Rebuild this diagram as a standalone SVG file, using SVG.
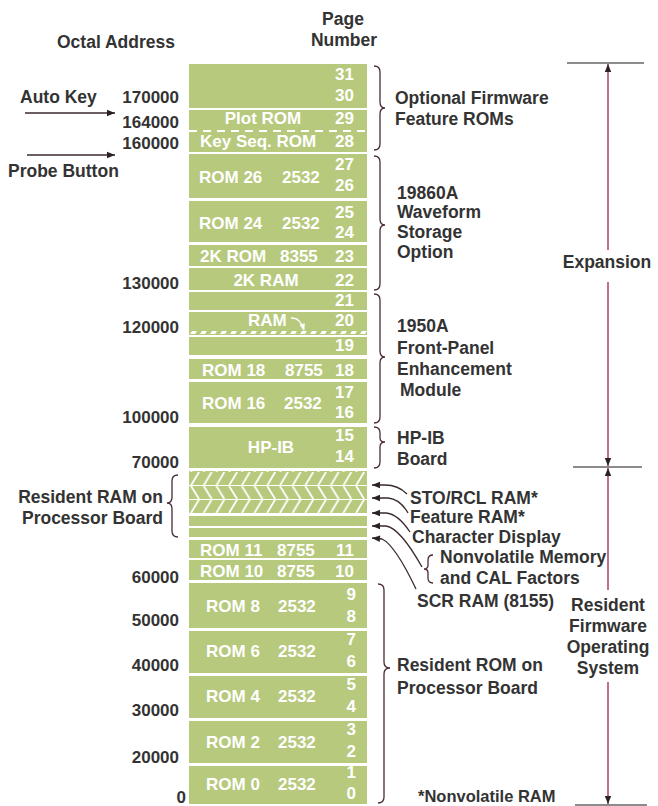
<svg xmlns="http://www.w3.org/2000/svg" width="658" height="806" viewBox="0 0 658 806">
<style>
.blk{fill:#b6c97d}
.w{fill:#fff;font-family:"Liberation Sans",Arial,sans-serif;font-weight:bold;font-size:17px}
.wr{fill:#fff;font-family:"Liberation Sans",Arial,sans-serif;font-weight:bold;font-size:17px;text-anchor:end}
.d{fill:#333;font-family:"Liberation Sans",Arial,sans-serif;font-weight:bold;font-size:17.5px}
.dr{fill:#333;font-family:"Liberation Sans",Arial,sans-serif;font-weight:bold;font-size:17.5px;text-anchor:end}
.dm{fill:#333;font-family:"Liberation Sans",Arial,sans-serif;font-weight:bold;font-size:17.5px;text-anchor:middle}
.n{fill:#333;font-family:"Liberation Sans",Arial,sans-serif;font-weight:bold;font-size:17px;text-anchor:end}
.brace{fill:none;stroke:#4a2a36;stroke-width:1.3}
.ptr{fill:none;stroke:#3a2a30;stroke-width:1.3}
.dim{fill:none;stroke:#a8325a;stroke-width:1.4}
.bar{stroke:#666;stroke-width:1.5}
</style>
<defs>
<marker id="ah" viewBox="0 0 10 10" refX="10" refY="5" markerWidth="10" markerHeight="8" markerUnits="userSpaceOnUse" orient="auto">
<path d="M0,1 L10,5 L0,9 Z" fill="#2a2226"/>
</marker>
<marker id="ahw" viewBox="0 0 10 10" refX="9" refY="5" markerWidth="8" markerHeight="7" markerUnits="userSpaceOnUse" orient="auto">
<path d="M0,1 L10,5 L0,9 Z" fill="#fff"/>
</marker>
<pattern id="chev" patternUnits="userSpaceOnUse" x="189" y="472" width="12.7" height="41">
<rect width="12.7" height="41" fill="#b6c97d"/>
<path d="M2,13.5 L10,0 M2,14 L10,27 M2,41 L10,27.5" stroke="#fff" stroke-width="1.8" fill="none"/>
<path d="M0,13.5 H12.7 M0,27.5 H12.7" stroke="#fff" stroke-width="1" fill="none"/>
</pattern>
<pattern id="hatch" patternUnits="userSpaceOnUse" x="189" y="330" width="10" height="5">
<path d="M1,4 L3,1 L8,1 L6,4 Z" fill="#fff"/>
</pattern>
</defs>
<rect width="658" height="806" fill="#fff"/>

<g id="headers">
<text class="d" x="57" y="48">Octal Address</text>
<text class="dm" x="343" y="25">Page</text>
<text class="dm" x="344" y="46">Number</text>
</g>

<g id="addresses">
<text class="n" x="179" y="103">170000</text>
<text class="n" x="179" y="128">164000</text>
<text class="n" x="179" y="149">160000</text>
<text class="n" x="179" y="289">130000</text>
<text class="n" x="179" y="333">120000</text>
<text class="n" x="179" y="423">100000</text>
<text class="n" x="179" y="468">70000</text>
<text class="n" x="179" y="583">60000</text>
<text class="n" x="179" y="626">50000</text>
<text class="n" x="179" y="671">40000</text>
<text class="n" x="179" y="716">30000</text>
<text class="n" x="179" y="763">20000</text>
<text class="n" x="186" y="803">0</text>
</g>

<g id="block-31-30"><rect class="blk" x="189" y="64" width="178" height="44"/>
<text class="wr" x="354" y="80">31</text><text class="wr" x="354" y="101">30</text></g>
<g id="block-29-28"><rect class="blk" x="189" y="110" width="178" height="42"/>
<line x1="189" y1="131" x2="367" y2="131" stroke="#fff" stroke-width="2" stroke-dasharray="8 6"/>
<text class="w" x="263" y="124" text-anchor="middle">Plot ROM</text><text class="wr" x="354" y="124">29</text>
<text class="w" x="200" y="147">Key Seq. ROM</text><text class="wr" x="354" y="147">28</text></g>
<g id="block-27-26"><rect class="blk" x="189" y="154" width="178" height="44"/>
<text class="w" x="199" y="183">ROM 26</text><text class="w" x="282" y="183">2532</text>
<text class="wr" x="354" y="170">27</text><text class="wr" x="354" y="191">26</text></g>
<g id="block-25-24"><rect class="blk" x="189" y="201" width="178" height="41"/>
<text class="w" x="199" y="229">ROM 24</text><text class="w" x="282" y="229">2532</text>
<text class="wr" x="354" y="218">25</text><text class="wr" x="354" y="238">24</text></g>
<g id="block-23"><rect class="blk" x="189" y="245" width="178" height="21"/>
<text class="w" x="200" y="262">2K ROM</text><text class="w" x="280" y="262">8355</text><text class="wr" x="354" y="262">23</text></g>
<g id="block-22"><rect class="blk" x="189" y="268" width="178" height="22"/>
<text class="w" x="266" y="286" text-anchor="middle">2K RAM</text><text class="wr" x="354" y="286">22</text></g>
<g id="block-21"><rect class="blk" x="189" y="292" width="178" height="18"/>
<text class="wr" x="354" y="306">21</text></g>
<g id="block-20"><rect class="blk" x="189" y="312" width="178" height="23"/>
<rect x="189" y="330" width="178" height="5" fill="url(#hatch)"/>
<text class="w" x="248" y="326">RAM</text><text class="wr" x="354" y="326">20</text>
<path d="M291,318 Q300,317 304,330" fill="none" stroke="#fff" stroke-width="1.5" marker-end="url(#ahw)"/></g>
<g id="block-19"><rect class="blk" x="189" y="337" width="178" height="18"/>
<text class="wr" x="354" y="351">19</text></g>
<g id="block-18"><rect class="blk" x="189" y="359" width="178" height="20"/>
<text class="w" x="202" y="376">ROM 18</text><text class="w" x="285" y="376">8755</text><text class="wr" x="354" y="376">18</text></g>
<g id="block-17-16"><rect class="blk" x="189" y="382" width="178" height="41"/>
<text class="w" x="202" y="409">ROM 16</text><text class="w" x="284" y="409">2532</text>
<text class="wr" x="354" y="398">17</text><text class="wr" x="354" y="418">16</text></g>
<g id="block-15-14"><rect class="blk" x="189" y="427" width="178" height="41"/>
<text class="w" x="271" y="453" text-anchor="middle">HP-IB</text>
<text class="wr" x="354" y="441">15</text><text class="wr" x="354" y="462">14</text></g>
<g id="block-ram-nv"><rect x="189" y="471" width="178" height="42" fill="url(#chev)"/></g>
<g id="block-char"><rect class="blk" x="189" y="516" width="178" height="10"/></g>
<g id="block-scr"><rect class="blk" x="189" y="528" width="178" height="9"/></g>
<g id="block-11"><rect class="blk" x="189" y="540" width="178" height="18"/>
<text class="w" x="200" y="556">ROM 11</text><text class="w" x="277" y="556">8755</text><text class="wr" x="354" y="556">11</text></g>
<g id="block-10"><rect class="blk" x="189" y="560" width="178" height="20"/>
<text class="w" x="200" y="577">ROM 10</text><text class="w" x="277" y="577">8755</text><text class="wr" x="354" y="577">10</text></g>
<g id="block-9-8"><rect class="blk" x="189" y="583" width="178" height="45"/>
<text class="w" x="206" y="612">ROM 8</text><text class="w" x="278" y="612">2532</text>
<text class="wr" x="356" y="600">9</text><text class="wr" x="356" y="622">8</text></g>
<g id="block-7-6"><rect class="blk" x="189" y="631" width="178" height="42"/>
<text class="w" x="206" y="657">ROM 6</text><text class="w" x="278" y="657">2532</text>
<text class="wr" x="356" y="645">7</text><text class="wr" x="356" y="667">6</text></g>
<g id="block-5-4"><rect class="blk" x="189" y="676" width="178" height="42"/>
<text class="w" x="206" y="702">ROM 4</text><text class="w" x="278" y="702">2532</text>
<text class="wr" x="356" y="690">5</text><text class="wr" x="356" y="712">4</text></g>
<g id="block-3-2"><rect class="blk" x="189" y="721" width="178" height="42"/>
<text class="w" x="206" y="748">ROM 2</text><text class="w" x="278" y="748">2532</text>
<text class="wr" x="356" y="735">3</text><text class="wr" x="356" y="757">2</text></g>
<g id="block-1-0"><rect class="blk" x="189" y="766" width="178" height="38"/>
<text class="w" x="206" y="790">ROM 0</text><text class="w" x="278" y="790">2532</text>
<text class="wr" x="356" y="778">1</text><text class="wr" x="356" y="799">0</text></g>

<g id="braces">
<path class="brace" d="M374,66 Q380,66 380,72 L380,102 Q380,108 385,108 Q380,108 380,114 L380,144 Q380,150 374,150"/>
<path class="brace" d="M374,156 Q380,156 380,162 L380,219 Q380,225 385,225 Q380,225 380,231 L380,284 Q380,290 374,290"/>
<path class="brace" d="M374,294 Q380,294 380,300 L380,351 Q380,357 385,357 Q380,357 380,363 L380,417 Q380,423 374,423"/>
<path class="brace" d="M374,427 Q380,427 380,433 L380,438 Q380,442 385,442 Q380,442 380,447 L380,462 Q380,468 374,468"/>
<path class="brace" d="M378,584 Q384,584 384,590 L384,662 Q384,668 390,668 Q384,668 384,674 L384,797 Q384,803 378,803"/>
<path class="brace" d="M178,475 Q172,475 172,481 L172,497 Q172,503 167,503 Q172,503 172,509 L172,531 Q172,537 178,537"/>
<path class="brace" d="M433,555 Q428,555 428,560 L428,565 Q428,569 424,569 Q428,569 428,573 L428,578 Q428,583 433,583"/>
</g>

<g id="labels">
<text class="d" x="395" y="104">Optional Firmware</text>
<text class="d" x="395" y="125">Feature ROMs</text>
<text class="d" x="397" y="199">19860A</text>
<text class="d" x="397" y="218">Waveform</text>
<text class="d" x="397" y="238">Storage</text>
<text class="d" x="397" y="258">Option</text>
<text class="d" x="397" y="332">1950A</text>
<text class="d" x="397" y="354">Front-Panel</text>
<text class="d" x="397" y="375">Enhancement</text>
<text class="d" x="400" y="396">Module</text>
<text class="d" x="397" y="444">HP-IB</text>
<text class="d" x="397" y="465">Board</text>
<text class="dr" x="163" y="503">Resident RAM on</text>
<text class="dr" x="163" y="524">Processor Board</text>
<text class="d" x="410" y="504">STO/RCL RAM*</text>
<text class="d" x="410" y="523">Feature RAM*</text>
<text class="d" x="412" y="543">Character Display</text>
<text class="d" x="440" y="563">Nonvolatile Memory</text>
<text class="d" x="440" y="584">and CAL Factors</text>
<text class="d" x="417" y="607">SCR RAM (8155)</text>
<text class="d" x="397" y="671">Resident ROM on</text>
<text class="d" x="397" y="694">Processor Board</text>
<text class="dm" x="607" y="268">Expansion</text>
<text class="dm" x="608" y="611">Resident</text>
<text class="dm" x="608" y="632">Firmware</text>
<text class="dm" x="608" y="653">Operating</text>
<text class="dm" x="608" y="674">System</text>
<text class="d" x="20" y="103">Auto Key</text>
<text class="d" x="8" y="177">Probe Button</text>
<text class="d" x="418" y="802" style="font-size:16.5px">*Nonvolatile RAM</text>
</g>

<g id="connectors">
<line class="ptr" x1="25" y1="113" x2="115" y2="113" marker-end="url(#ah)"/>
<line class="ptr" x1="27" y1="155" x2="115" y2="155" marker-end="url(#ah)"/>
<path class="ptr" d="M407,494 Q398,485 385,485 L372,485" marker-end="url(#ah)"/>
<path class="ptr" d="M408,513 Q400,499 388,498 L372,498" marker-end="url(#ah)"/>
<path class="ptr" d="M410,532 Q398,514 386,513 L372,513" marker-end="url(#ah)"/>
<path class="ptr" d="M422,567 Q400,528 386,526 L372,526" marker-end="url(#ah)"/>
<path class="ptr" d="M416,589 Q395,545 382,539 L372,538" marker-end="url(#ah)"/>
<line class="bar" x1="567" y1="63" x2="644" y2="63"/>
<line class="bar" x1="573" y1="467" x2="642" y2="467"/>
<line class="bar" x1="575" y1="805" x2="647" y2="805"/>
<line class="dim" x1="608" y1="250" x2="608" y2="64" marker-end="url(#ah)"/>
<line class="dim" x1="608" y1="282" x2="608" y2="466" marker-end="url(#ah)"/>
<line class="dim" x1="608" y1="590" x2="608" y2="468" marker-end="url(#ah)"/>
<line class="dim" x1="608" y1="682" x2="608" y2="804" marker-end="url(#ah)"/>
</g>
</svg>
